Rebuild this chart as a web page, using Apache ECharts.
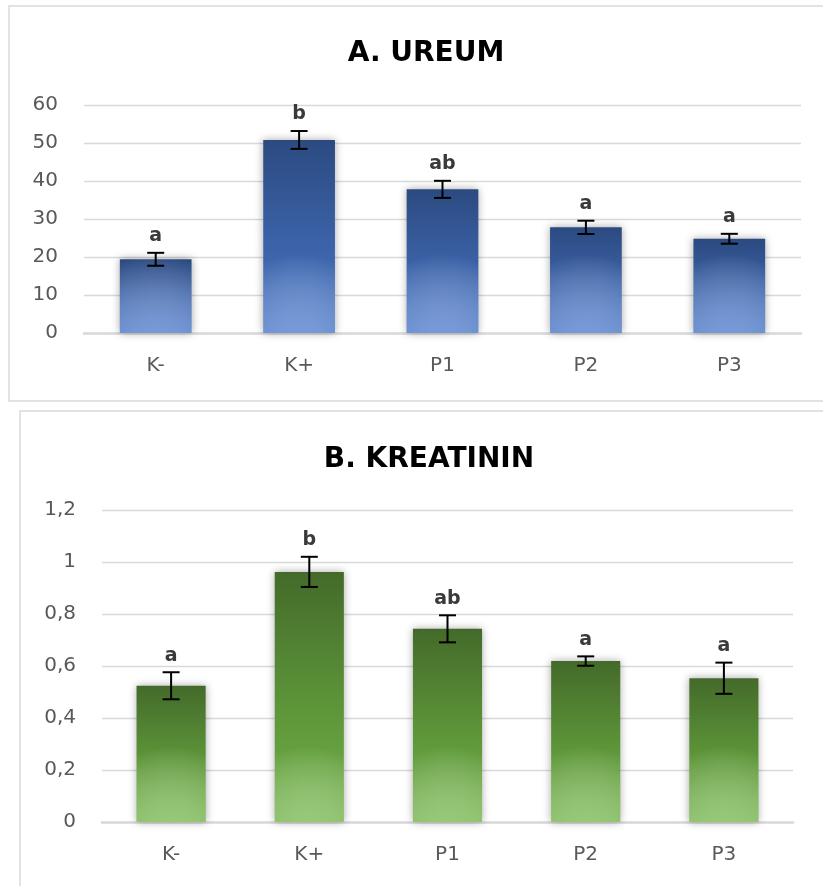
<!DOCTYPE html>
<html>
<head>
<meta charset="utf-8">
<script src="https://cdn.jsdelivr.net/npm/echarts@6/dist/echarts.min.js"></script>
<style>
html,body{margin:0;padding:0;background:#fff;}
#chart{width:823px;height:886px;}
</style>
</head>
<body>
<div id="chart"></div>
<script>
// ---- data ----
const categories = ['K-', 'K+', 'P1', 'P2', 'P3'];
const ureumMean = [19.4, 50.8, 37.8, 27.8, 24.8];
const ureumErr = [1.7, 2.35, 2.25, 1.75, 1.3];
const ureumLetters = ['a', 'b', 'ab', 'a', 'a'];
const kreatMean = [0.524, 0.962, 0.743, 0.619, 0.553];
const kreatErr = [0.052, 0.058, 0.052, 0.018, 0.06];
const kreatLetters = ['a', 'b', 'ab', 'a', 'a'];
const ureumAxis = { min: 0, max: 60, interval: 10 };
const kreatAxis = { min: 0, max: 1.2, interval: 0.2 };
const titles = ['A. UREUM', 'B. KREATININ'];

// ---- styling ----
const FONT = 'DejaVu Sans';
const labelColor = '#595959';
const gridColor = '#d9d9d9';

function linGrad(c0, c1, c2) {
  return new echarts.graphic.LinearGradient(0, 0, 0, 1, [
    { offset: 0, color: c0 }, { offset: 0.55, color: c1 }, { offset: 1, color: c2 }
  ]);
}
function radGrad(c) {
  return new echarts.graphic.RadialGradient(0.5, 1, 1.1, [
    { offset: 0, color: c }, { offset: 1, color: 'rgba(255,255,255,0)' }
  ]);
}

function errorSeries(gridIdx, mean, err, letters) {
  return {
    type: 'custom',
    xAxisIndex: gridIdx, yAxisIndex: gridIdx,
    z: 10, silent: true,
    data: mean.map((m, i) => [i, m, err[i], letters[i]]),
    renderItem: function (params, api) {
      const i = api.value(0), m = api.value(1), e = api.value(2);
      const top = api.coord([i, m + e]);
      const bot = api.coord([i, m - e]);
      const hw = 8.5;
      const ls = { stroke: '#000', lineWidth: 2 };
      return {
        type: 'group',
        children: [
          { type: 'line', shape: { x1: top[0], y1: top[1], x2: bot[0], y2: bot[1] }, style: ls },
          { type: 'line', shape: { x1: top[0] - hw, y1: top[1], x2: top[0] + hw, y2: top[1] }, style: ls },
          { type: 'line', shape: { x1: bot[0] - hw, y1: bot[1], x2: bot[0] + hw, y2: bot[1] }, style: ls },
          { type: 'text', style: {
              text: letters[params.dataIndex], x: top[0], y: top[1] - 7,
              align: 'center', verticalAlign: 'bottom',
              font: 'bold 19px "' + FONT + '"', fill: '#3a3a3a' } }
        ]
      };
    }
  };
}

function barSeries(gridIdx, mean, grad, glow) {
  return [
    {
      type: 'bar', xAxisIndex: gridIdx, yAxisIndex: gridIdx,
      data: mean, barWidth: '50%', z: 2,
      itemStyle: { color: grad, shadowBlur: 8, shadowColor: 'rgba(0,0,0,0.35)' }
    },
    {
      type: 'bar', xAxisIndex: gridIdx, yAxisIndex: gridIdx,
      data: mean, barWidth: '50%', barGap: '-100%', z: 3, silent: true,
      itemStyle: { color: glow }
    }
  ];
}

function xAxisOf(gridIdx) {
  return {
    type: 'category', gridIndex: gridIdx, data: categories,
    axisTick: { show: false },
    axisLine: { lineStyle: { color: gridColor, width: 2.5 } },
    axisLabel: { color: labelColor, fontFamily: FONT, fontSize: 20, margin: 23 }
  };
}
function yAxisOf(gridIdx, ax) {
  return {
    type: 'value', gridIndex: gridIdx, min: ax.min, max: ax.max, interval: ax.interval,
    axisLine: { show: false }, axisTick: { show: false },
    splitLine: { lineStyle: { color: gridColor, width: 1.3 } },
    axisLabel: {
      color: labelColor, fontFamily: FONT, fontSize: 20, margin: 26,
      formatter: v => String(Math.round(v * 10) / 10).replace('.', ',')
    }
  };
}

const chart = echarts.init(document.getElementById('chart'), null, { renderer: 'canvas' });
chart.setOption({
  backgroundColor: '#fff',
  animation: false,
  title: [
    { text: titles[0], left: 421, top: 35, textAlign: 'center',
      textStyle: { fontFamily: FONT, fontWeight: 'bold', fontSize: 28, color: '#000' } },
    { text: titles[1], left: 424, top: 441, textAlign: 'center',
      textStyle: { fontFamily: FONT, fontWeight: 'bold', fontSize: 28, color: '#000' } }
  ],
  graphic: [
    { type: 'rect', shape: { x: 9, y: 6, width: 840, height: 395 },
      style: { fill: 'none', stroke: gridColor, lineWidth: 1.5 }, z: 0 },
    { type: 'rect', shape: { x: 20, y: 411, width: 840, height: 500 },
      style: { fill: 'none', stroke: gridColor, lineWidth: 1.5 }, z: 0 }
  ],
  grid: [
    { left: 84, right: 22, top: 105, height: 228 },
    { left: 102, right: 30, top: 510, height: 312 }
  ],
  xAxis: [xAxisOf(0), xAxisOf(1)],
  yAxis: [yAxisOf(0, ureumAxis), yAxisOf(1, kreatAxis)],
  series: [
    ...barSeries(0, ureumMean, linGrad('#2b4a80', '#3c63a9', '#4674c4'), radGrad('rgba(160,185,235,0.55)')),
    errorSeries(0, ureumMean, ureumErr, ureumLetters),
    ...barSeries(1, kreatMean, linGrad('#446a2a', '#5d9639', '#72b148'), radGrad('rgba(180,220,160,0.55)')),
    errorSeries(1, kreatMean, kreatErr, kreatLetters)
  ]
});
</script>
</body>
</html>
